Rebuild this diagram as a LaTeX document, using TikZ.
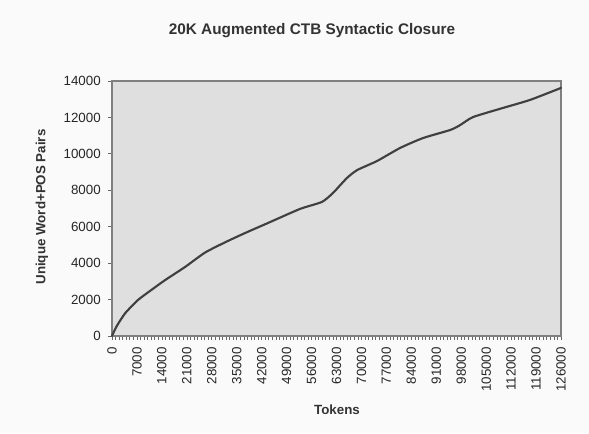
\documentclass[tikz,border=0pt]{standalone}
\usepackage{fontspec}
\setmainfont{Liberation Sans}

\begin{document}
\begin{tikzpicture}[x=0.75pt,y=0.75pt,
  ticklabel/.style={font=\fontsize{10}{12}\selectfont, text=black!85, inner sep=0pt},
  axistitle/.style={font=\bfseries\fontsize{10}{12}\selectfont, text=black!80, inner sep=0pt}]

\fill[gray!4] (0,0) rectangle (589,433);
\useasboundingbox (0,0) rectangle (589,433);

\node[font=\bfseries\fontsize{11.5}{14}\selectfont, text=black!80] (title) at (312,402) {20K Augmented CTB Syntactic Closure};

\node[axistitle, rotate=90] (ytitle) at (42,226) {Unique Word+POS Pairs};
\node[axistitle] (xtitle) at (337,23) {Tokens};

% plot area, tokens and pairs in thousands
\begin{scope}[shift={(112,97)}, xscale=3.5635, yscale=18.214]
\fill[gray!25] (0,0) rectangle (126,14);

\foreach \x in {0,...,126} {
\draw[black!60, line width=0.5pt] (\x,0) -- (\x,-0.22);
}
\foreach \x in {0,7,...,126} {
\node[ticklabel, rotate=90, anchor=east] at (\x,-0.6) {\ifnum\x=0 0\else\x000\fi};
}
\foreach \y in {0,2,...,14} {
\draw[black!60, line width=0.6pt] (0,\y) -- (-1.1,\y);
\node[ticklabel, anchor=east] at (-3.1,\y) {\ifnum\y=0 0\else\y000\fi};
}

\draw[black!50, line width=1pt] (0,0) rectangle (126,14);

\draw[black!75, line width=1.6pt, line join=round, line cap=round] plot[smooth, tension=0.35] coordinates {
(0,0) (1.2,0.5) (3.65,1.24) (7.3,1.98) (11.2,2.55) (14.9,3.07) (20.5,3.79)
(26.1,4.58) (31.7,5.14) (37.3,5.65) (44.3,6.25) (52.8,6.98)
(58.9,7.36) (62,7.85) (65.9,8.67) (68.8,9.11) (74.4,9.61) (80.8,10.32)
(87.3,10.87) (94.9,11.31) (97.7,11.58) (101.3,12.02) (109.7,12.52)
(117.3,12.96) (126,13.62)};
\end{scope}

\end{tikzpicture}
\end{document}
